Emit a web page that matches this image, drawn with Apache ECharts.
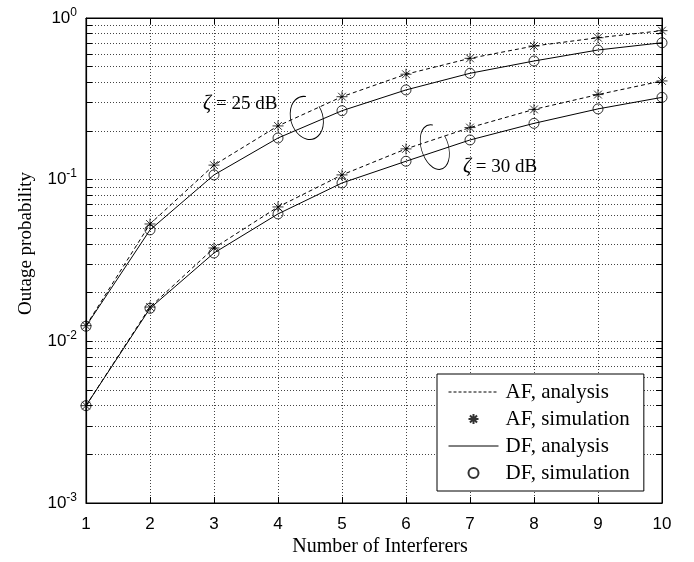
<!DOCTYPE html>
<html><head><meta charset="utf-8">
<script src="https://cdn.jsdelivr.net/npm/echarts@6/dist/echarts.min.js"></script>
<style>html,body{margin:0;padding:0;background:#fff}#c{width:694px;height:562px}</style>
</head><body><div id="c"></div>
<script>
const xVals = [1,2,3,4,5,6,7,8,9,10];
const af25 = [0.0125, 0.0532, 0.123, 0.215, 0.326, 0.449, 0.563, 0.671, 0.755, 0.835];
const df25 = [0.0124, 0.0489, 0.107, 0.181, 0.267, 0.359, 0.455, 0.542, 0.634, 0.703];
const af30 = [0.0040, 0.0163, 0.0378, 0.0678, 0.107, 0.155, 0.210, 0.272, 0.336, 0.408];
const df30 = [0.0040, 0.0160, 0.0352, 0.0614, 0.0954, 0.130, 0.176, 0.223, 0.274, 0.323];
const yMajor = [0.001, 0.01, 0.1, 1];
const yMinorMult = [1,2,3,4,5,6,7,8,9];
const legendNames = ['AF, analysis', 'AF, simulation', 'DF, analysis', 'DF, simulation'];
const xTitle = 'Number of Interferers';
const yTitle = 'Outage probability';
const ann25 = {text: '25 dB', x: 3.41, y: 0.294};
const ann30 = {text: '30 dB', x: 7.47, y: 0.120};
const ell25 = {x: 4.45, y: 0.241, rx: 16, ry: 22};
const ell30 = {x: 6.45, y: 0.159, rx: 13.5, ry: 23};

const yTicks = [];
[0.001, 0.01, 0.1].forEach(d => yMinorMult.forEach(m => yTicks.push(+(d*m).toPrecision(3))));
yTicks.push(1);

const pair = arr => xVals.map((x,i) => [x, arr[i]]);
const starPath = 'path://M0,-10L0,10M-10,0L10,0M-7.07,-7.07L7.07,7.07M-7.07,7.07L7.07,-7.07';
const serif = '"Liberation Serif","Times New Roman",serif';
const sans = '"Liberation Sans",Arial,sans-serif';

const lineS = (name, arr, dashed) => ({
  name, type: 'line', data: pair(arr), symbol: 'none', showSymbol: false, z: 3,
  lineStyle: {color: '#000', width: 1, type: dashed ? [4,3] : 'solid'},
  itemStyle: {color: '#000'}, animation: false
});
const scatS = (name, arr, star) => ({
  name, type: 'scatter', data: pair(arr), z: 4,
  symbol: star ? starPath : 'circle', symbolSize: star ? 11 : 10,
  itemStyle: {color: 'rgba(0,0,0,0)', borderColor: '#000', borderWidth: 1},
  animation: false
});

const yLabelFmt = v => {
  const e = Math.round(Math.log10(v));
  return '{b|10}{s|' + e + '}';
};

const noSym = {color: 'rgba(0,0,0,0)', borderColor: 'rgba(0,0,0,0)', borderWidth: 0};
const legendData = [
  {name: legendNames[0], itemStyle: noSym, lineStyle: {color: '#000', width: 1, type: [3,2]}},
  {name: legendNames[1]},
  {name: legendNames[2], itemStyle: noSym, lineStyle: {color: '#000', width: 1, type: 'solid'}},
  {name: legendNames[3]}
];

const chart = echarts.init(document.getElementById('c'), null, {renderer: 'canvas'});
chart.setOption({
  animation: false,
  backgroundColor: '#fff',
  grid: {left: 86, right: 32, top: 18, bottom: 59, show: true, borderColor: '#000', borderWidth: 1},
  xAxis: [{
    type: 'value', min: 1, max: 10, interval: 1, position: 'bottom',
    axisLine: {show: true, onZero: false, lineStyle: {color: '#000', width: 1.2}},
    axisTick: {inside: true, length: 6, lineStyle: {color: '#000'}},
    axisLabel: {fontFamily: sans, fontSize: 17, color: '#000', margin: 13},
    splitLine: {show: true, lineStyle: {color: '#444', width: 1, type: [1,2]}}
  }, {
    type: 'value', min: 1, max: 10, interval: 1, position: 'top',
    axisLine: {show: true, onZero: false, lineStyle: {color: '#000', width: 1}},
    axisTick: {inside: true, length: 6, lineStyle: {color: '#000'}},
    axisLabel: {show: false}, splitLine: {show: false}
  }],
  yAxis: [{
    type: 'log', min: 0.001, max: 1, logBase: 10, position: 'left',
    axisLine: {show: true, onZero: false, lineStyle: {color: '#000', width: 1.2}},
    axisTick: {inside: true, length: 6, customValues: yTicks, lineStyle: {color: '#000'}},
    axisLabel: {customValues: yMajor, formatter: yLabelFmt, margin: 9,
      rich: {b: {fontFamily: sans, fontSize: 17, color: '#000'},
             s: {fontFamily: sans, fontSize: 12, color: '#000', padding: [0,0,11,0]}}},
    splitLine: {show: true, lineStyle: {color: '#444', width: 1, type: [1,2]}},
    minorTick: {show: false}
  }, {
    type: 'log', min: 0.001, max: 1, logBase: 10, position: 'right',
    axisLine: {show: true, onZero: false, lineStyle: {color: '#000', width: 1}},
    axisTick: {inside: true, length: 6, customValues: yTicks, lineStyle: {color: '#000'}},
    axisLabel: {show: false}, splitLine: {show: false}
  }],
  legend: {
    data: legendData, orient: 'vertical', left: 437, top: 374,
    padding: [6, 14, 6, 11], itemGap: 3, itemWidth: 50, itemHeight: 10,
    backgroundColor: '#fff', borderColor: '#000', borderWidth: 1,
    textStyle: {fontFamily: serif, fontSize: 21, lineHeight: 24, color: '#000', padding: [0,0,0,2]},
    selectedMode: false
  },
  series: [
    lineS(legendNames[0], af25, true),
    scatS(legendNames[1], af25, true),
    lineS(legendNames[2], df25, false),
    scatS(legendNames[3], df25, false),
    lineS(legendNames[0], af30, true),
    scatS(legendNames[1], af30, true),
    lineS(legendNames[2], df30, false),
    scatS(legendNames[3], df30, false)
  ]
});

function px(x, y) { return chart.convertToPixel({xAxisIndex: 0, yAxisIndex: 0}, [x, y]); }
function annText(a) {
  const p = px(a.x, a.y);
  return {type: 'text', x: p[0], y: p[1], z: 10,
    style: {text: '{i|\u03B6}{n| = ' + a.text + '}', align: 'center', verticalAlign: 'middle',
      rich: {i: {fontFamily: serif, fontStyle: 'italic', fontSize: 20, fill: '#000'},
             n: {fontFamily: serif, fontSize: 19, fill: '#000'}}}};
}
function annEll(e) {
  const p = px(e.x, e.y);
  return {type: 'arc', x: p[0], y: p[1], scaleX: e.rx / e.ry, rotation: 0.3, z: 10,
    shape: {cx: 0, cy: 0, r: e.ry, startAngle: -0.35, endAngle: 5.06, clockwise: true},
    style: {stroke: '#000', lineWidth: 1.1, fill: null}};
}
function yTitleEl() {
  const top = px(1, 1)[1], bot = px(1, 0.001)[1];
  return {type: 'text', x: 26, y: (top + bot) / 2 - 17, rotation: Math.PI / 2, z: 10,
    style: {text: yTitle, align: 'center', verticalAlign: 'middle',
      fontFamily: serif, fontSize: 19, fill: '#000'}};
}
function xTitleEl() {
  const l = px(1, 0.001), r = px(10, 0.001);
  return {type: 'text', x: (l[0] + r[0]) / 2 + 6, y: l[1] + 44, z: 10,
    style: {text: xTitle, align: 'center', verticalAlign: 'middle',
      fontFamily: serif, fontSize: 20, fill: '#000'}};
}
chart.setOption({graphic: [annText(ann25), annText(ann30), annEll(ell25), annEll(ell30), yTitleEl(), xTitleEl()]});
</script></body></html>
